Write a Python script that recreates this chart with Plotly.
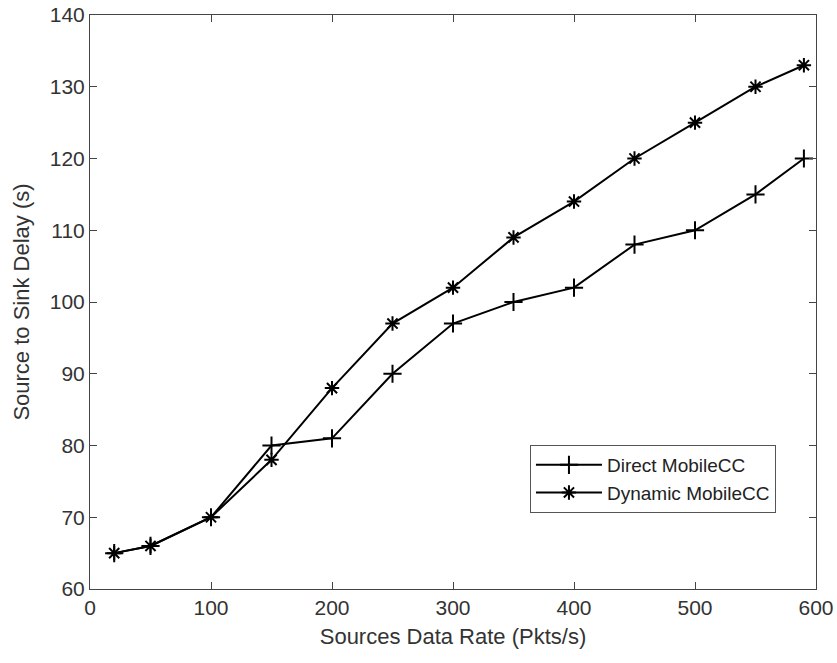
import plotly.graph_objects as go

rates = [20, 50, 100, 150, 200, 250, 300, 350, 400, 450, 500, 550, 590]
direct = [65, 66, 70, 80, 81, 90, 97, 100, 102, 108, 110, 115, 120]
dynamic = [65, 66, 70, 78, 88, 97, 102, 109, 114, 120, 125, 130, 133]

x_ticks = [0, 100, 200, 300, 400, 500, 600]
y_ticks = [60, 70, 80, 90, 100, 110, 120, 130, 140]

FONT = "Liberation Sans, Arial, sans-serif"

fig = go.Figure()
fig.add_trace(go.Scatter(
    x=rates, y=direct, mode="lines+markers", name="Direct MobileCC",
    line=dict(color="black", width=2),
    marker=dict(symbol="cross-thin-open", size=13, color="black",
                line=dict(color="black", width=2)),
))
fig.add_trace(go.Scatter(
    x=rates, y=dynamic, mode="lines+markers", name="Dynamic MobileCC",
    line=dict(color="black", width=2),
    marker=dict(symbol="asterisk-open", size=12, color="black",
                line=dict(color="black", width=2)),
))

axis_common = dict(
    showline=True, linecolor="#444444", linewidth=1, mirror="ticks",
    ticks="inside", ticklen=7, tickcolor="#444444", showgrid=False, zeroline=False,
    automargin=False,
    tickfont=dict(family=FONT, size=21, color="#333333"),
    title_font=dict(family=FONT, size=22, color="#333333"),
)

fig.update_xaxes(range=[0, 600], tickvals=x_ticks, title_text="Sources Data Rate (Pkts/s)",
                 title_standoff=10, **axis_common)
fig.update_yaxes(range=[60, 140], tickvals=y_ticks, title_text="Source to Sink Delay (s)",
                 title_standoff=14, **axis_common)

fig.update_layout(
    width=837, height=663,
    margin=dict(l=90, r=21, t=15, b=74),
    plot_bgcolor="white", paper_bgcolor="white",
    font=dict(family=FONT, color="#333333"),
    legend=dict(x=0.606, y=0.251, xanchor="left", yanchor="top",
                bordercolor="#555555", borderwidth=1, bgcolor="white",
                font=dict(family=FONT, size=19, color="#222222"), tracegroupgap=0,
                itemwidth=66),
    showlegend=True,
)

fig.write_html("out.html", config={"displayModeBar": False},
               post_script="document.body.style.margin='0';document.body.style.overflow='hidden';")
